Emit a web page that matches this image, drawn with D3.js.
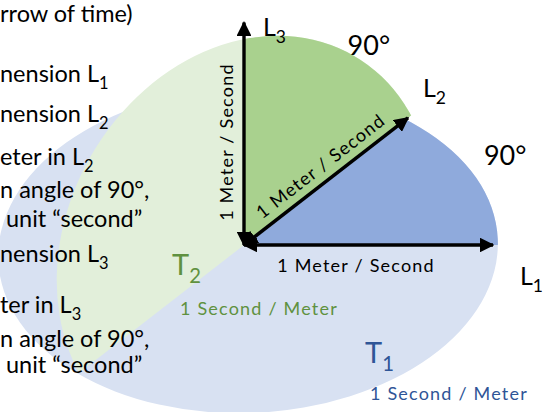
<!DOCTYPE html>
<html>
<head>
<meta charset="utf-8">
<script src="https://cdn.jsdelivr.net/npm/d3@7"></script>
<style>
  body { margin: 0; background: #fff; }
  svg { display: block; }
  text { font-family: Lato, "Open Sans", sans-serif; }
  text.unit { letter-spacing: 1.2px; }
</style>
</head>
<body>
<svg id="diagram"></svg>
<script>
// axes of the 3 space dimensions (angle in degrees, length in units)
const axisNames = ['L', 'L', 'L'];
const axisSubs = ['1', '2', '3'];
const axisAngles = [0, 37.8, 90];
const axisLengths = [0.996, 0.83, 0.89];
const axisUnits = ['1 Meter / Second', '1 Meter / Second', '1 Meter / Second'];
const angleLabels = ['90°', '90°'];

// time dimensions drawn as ellipses: centre u, centre v, radius a, radius b, tilt
const timeNames = ['T', 'T'];
const timeSubs = ['1', '2'];
const timeUnits = ['1 Second / Meter', '1 Second / Meter'];
const ellipseT1 = [0.016, -0.02, 1.0, 0.652, 2.5];
const ellipseT2 = [0.004, 0.004, 0.87, 0.71, 60];

// cut-off text on the left side
const leftText = ['rrow of time)', 'nension L', 'nension L', 'eter in L', 'n angle of 90°,', ' unit “second”',
                  'nension L', 'ter in L', 'n angle of 90°,', ' unit “second”'];
const leftSubs = ['', '1', '2', '2', '', '', '3', '3', '', ''];
const leftBaselines = [22, 82, 122, 165, 198, 227, 262, 313, 347, 373];

const config = {
    width: 544,
    height: 412,
    originX: 244,
    originY: 245,
    unit: 250
};

const colors = {
    blueLight: '#d8e1f2',
    blueDark: '#8faadc',
    greenLight: '#e2efda',
    greenDark: '#a9d18e',
    greenText: '#5f9140',
    blueText: '#2f5597'
};

let svg = d3.select('#diagram')
    .attr('width', config.width)
    .attr('height', config.height);

let xScale = d3.scaleLinear()
    .domain([-1, 1])
    .range([config.originX - config.unit, config.originX + config.unit]);
let yScale = d3.scaleLinear()
    .domain([-1, 1])
    .range([config.originY + config.unit, config.originY - config.unit]);

const rad = a => a * Math.PI / 180;
const tipX = (a, len) => xScale(len * Math.cos(rad(a)));
const tipY = (a, len) => yScale(len * Math.sin(rad(a)));

// clip regions: sectors from the origin
let defs = svg.append('defs');
const sector = (id, a0, a1) => {
    let pts = [[config.originX, config.originY]];
    d3.range(a0, a1 + 0.01, (a1 - a0) / 6).forEach(a => pts.push([tipX(a, 3), tipY(a, 3)]));
    defs.append('clipPath').attr('id', id)
        .append('polygon')
        .attr('points', pts.map(p => p.join(',')).join(' '));
};
sector('clip-half', axisAngles[1], axisAngles[1] + 180);
sector('clip-l1l2', axisAngles[0], axisAngles[1]);
sector('clip-l2l3', axisAngles[1], axisAngles[2]);

// the clip sits on a wrapper group so the ellipse tilt does not turn it
const drawEllipse = (e, fill, clip) => {
    let g = svg.append('g');
    if (clip) g.attr('clip-path', `url(#${clip})`);
    g.append('ellipse')
        .attr('cx', xScale(e[0]))
        .attr('cy', yScale(e[1]))
        .attr('rx', xScale(e[2]) - xScale(0))
        .attr('ry', xScale(e[3]) - xScale(0))
        .attr('transform', `rotate(${-e[4]},${xScale(e[0])},${yScale(e[1])})`)
        .style('fill', fill);
};

drawEllipse(ellipseT1, colors.blueLight, null);
drawEllipse(ellipseT2, colors.greenLight, 'clip-half');
drawEllipse(ellipseT1, colors.blueDark, 'clip-l1l2');
drawEllipse(ellipseT2, colors.greenDark, 'clip-l2l3');

// arrows
defs.append('marker')
    .attr('id', 'head')
    .attr('viewBox', '0 0 10 10')
    .attr('refX', 9).attr('refY', 5)
    .attr('markerWidth', 4.4).attr('markerHeight', 4.4)
    .attr('orient', 'auto-start-reverse')
    .append('path')
    .attr('d', 'M0,0 L10,5 L0,10 Z')
    .style('fill', 'black');

svg.selectAll('line.axis')
    .data(axisAngles)
    .enter()
    .append('line')
    .attr('class', 'axis')
    .attr('x1', xScale(0))
    .attr('y1', yScale(0))
    .attr('x2', (d, i) => tipX(d, axisLengths[i]))
    .attr('y2', (d, i) => tipY(d, axisLengths[i]))
    .style('stroke', 'black')
    .style('stroke-width', 3.4)
    .attr('marker-start', 'url(#head)')
    .attr('marker-end', 'url(#head)');

// text with a subscript
const subText = (x, y, main, sub, size, color, anchor) => {
    let t = svg.append('text')
        .attr('x', x).attr('y', y)
        .style('font-size', size + 'px')
        .style('fill', color)
        .attr('text-anchor', anchor || 'start')
        .attr('xml:space', 'preserve');
    t.append('tspan').text(main);
    if (sub) {
        t.append('tspan').attr('dy', size * 0.28).style('font-size', size * 0.7 + 'px').text(sub);
    }
    return t;
};

leftText.forEach((s, i) => subText(0, leftBaselines[i], s, leftSubs[i], 23.5, 'black'));

// axis names near the tips
const nameOffsets = [[27, 40], [15, -21], [19, 13]];
axisNames.forEach((n, i) => {
    subText(tipX(axisAngles[i], axisLengths[i]) + nameOffsets[i][0],
            tipY(axisAngles[i], axisLengths[i]) + nameOffsets[i][1],
            n, axisSubs[i], 25, 'black');
});

// 90 degree marks between the axes
const angleRadius = [1.1, 0.94];
angleLabels.forEach((s, i) => {
    let a = (axisAngles[i] + axisAngles[i + 1]) / 2 + (i == 0 ? 0 : -6);
    svg.append('text')
        .attr('x', tipX(a, angleRadius[i]) + (i == 0 ? 1 : 0))
        .attr('y', tipY(a, angleRadius[i]) + 9)
        .attr('text-anchor', 'middle')
        .style('font-size', '27px')
        .text(s);
});

// unit labels along each axis
const unitPos = [0.43, 0.5, 0.44];
axisUnits.forEach((s, i) => {
    let a = axisAngles[i];
    let px = tipX(a, axisLengths[i] * unitPos[i] + 0.02);
    let py = tipY(a, axisLengths[i] * unitPos[i] + 0.02);
    let t = svg.append('text')
        .attr('class', 'unit')
        .attr('text-anchor', 'middle')
        .style('font-size', '18px')
        .text(s);
    if (i == 0) {
        t.attr('x', px).attr('y', py + 27);
    } else if (i == 1) {
        t.attr('transform', `translate(${px},${py}) rotate(${-a}) translate(0,-9)`);
    } else {
        t.attr('transform', `translate(${px},${py}) rotate(-90) translate(0,-11)`);
    }
});

// time labels
subText(172, 275, timeNames[1], timeSubs[1], 29, colors.greenText);
svg.append('text').attr('class', 'unit').attr('x', 180).attr('y', 315).style('font-size', '18px')
    .style('fill', colors.greenText).text(timeUnits[1]);
subText(365, 363, timeNames[0], timeSubs[0], 29, colors.blueText);
svg.append('text').attr('class', 'unit').attr('x', 370).attr('y', 400).style('font-size', '18px')
    .style('fill', colors.blueText).text(timeUnits[0]);
</script>
</body>
</html>
